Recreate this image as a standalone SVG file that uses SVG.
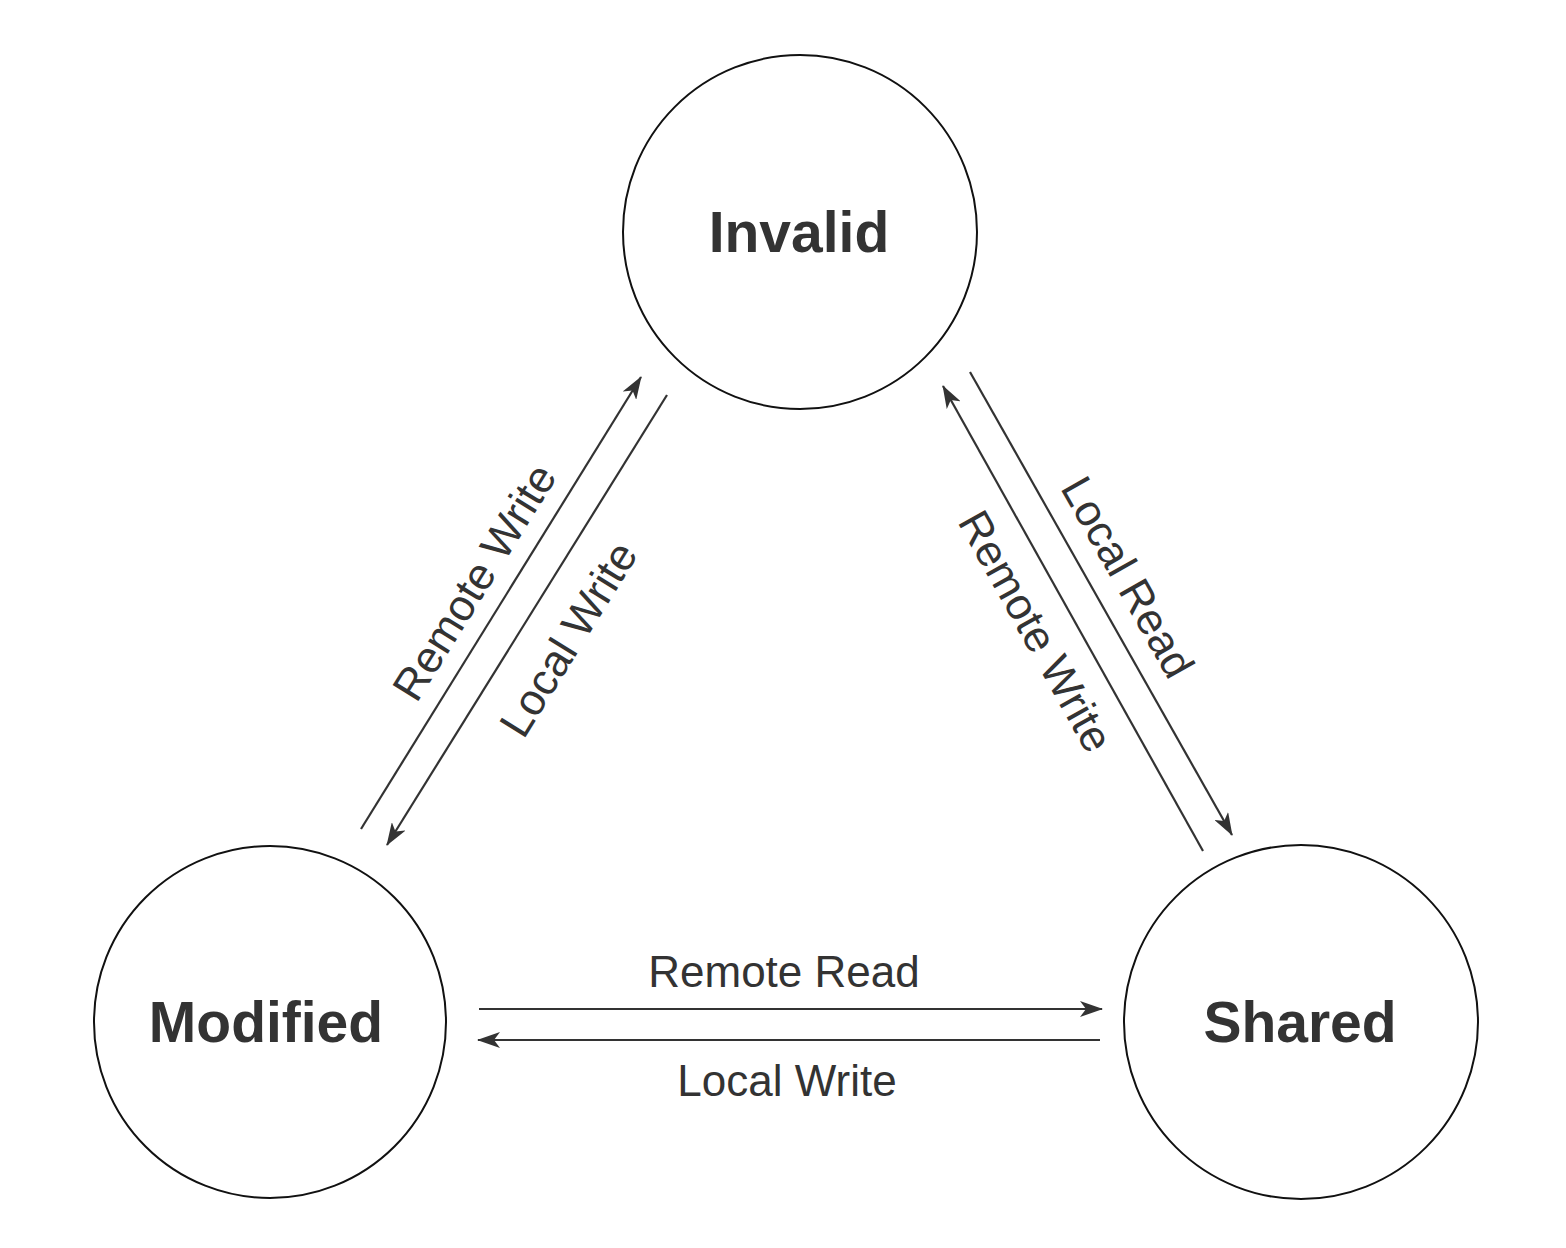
<svg xmlns="http://www.w3.org/2000/svg" width="1566" height="1248" viewBox="0 0 1566 1248">
<style>
.node{fill:#fff;stroke:#111;stroke-width:2}
.nlabel{font-family:"Liberation Sans",Arial,sans-serif;font-weight:bold;font-size:57px;fill:#333;text-anchor:middle}
.elabel{font-family:"Liberation Sans",Arial,sans-serif;font-size:44px;fill:#333;text-anchor:middle;dominant-baseline:central}
.edge{stroke:#333;stroke-width:2.2;fill:none;marker-end:url(#arr)}
</style>
<defs>
<marker id="arr" markerUnits="userSpaceOnUse" markerWidth="24" markerHeight="16" refX="22" refY="8" orient="auto" viewBox="0 0 24 16">
<path d="M0,0 L23,8 L0,16 L6,8 z" fill="#333"/>
</marker>
</defs>
<rect width="1566" height="1248" fill="#fff"/>
<g id="invalid"><circle class="node" cx="800" cy="232" r="177"/><text class="nlabel" x="799" y="252">Invalid</text></g>
<g id="modified"><circle class="node" cx="270" cy="1022" r="176"/><text class="nlabel" x="266" y="1042">Modified</text></g>
<g id="shared"><circle class="node" cx="1301" cy="1022" r="177"/><text class="nlabel" x="1300" y="1042">Shared</text></g>
<g id="connectors">
<line class="edge" x1="361" y1="829" x2="641" y2="377"/>
<line class="edge" x1="667" y1="395" x2="387" y2="845"/>
<line class="edge" x1="970" y1="372" x2="1232" y2="835"/>
<line class="edge" x1="1203" y1="851" x2="943" y2="386"/>
<line class="edge" x1="479" y1="1009" x2="1102" y2="1009"/>
<line class="edge" x1="1100" y1="1040" x2="478" y2="1040"/>
<text class="elabel" transform="translate(474,582) rotate(-58.2)">Remote Write</text>
<text class="elabel" transform="translate(568,639) rotate(-58.2)">Local Write</text>
<text class="elabel" transform="translate(1128,577) rotate(60.5)">Local Read</text>
<text class="elabel" transform="translate(1036,631) rotate(60.8)">Remote Write</text>
<text class="elabel" x="784" y="971">Remote Read</text>
<text class="elabel" x="787" y="1080">Local Write</text>
</g>
</svg>
